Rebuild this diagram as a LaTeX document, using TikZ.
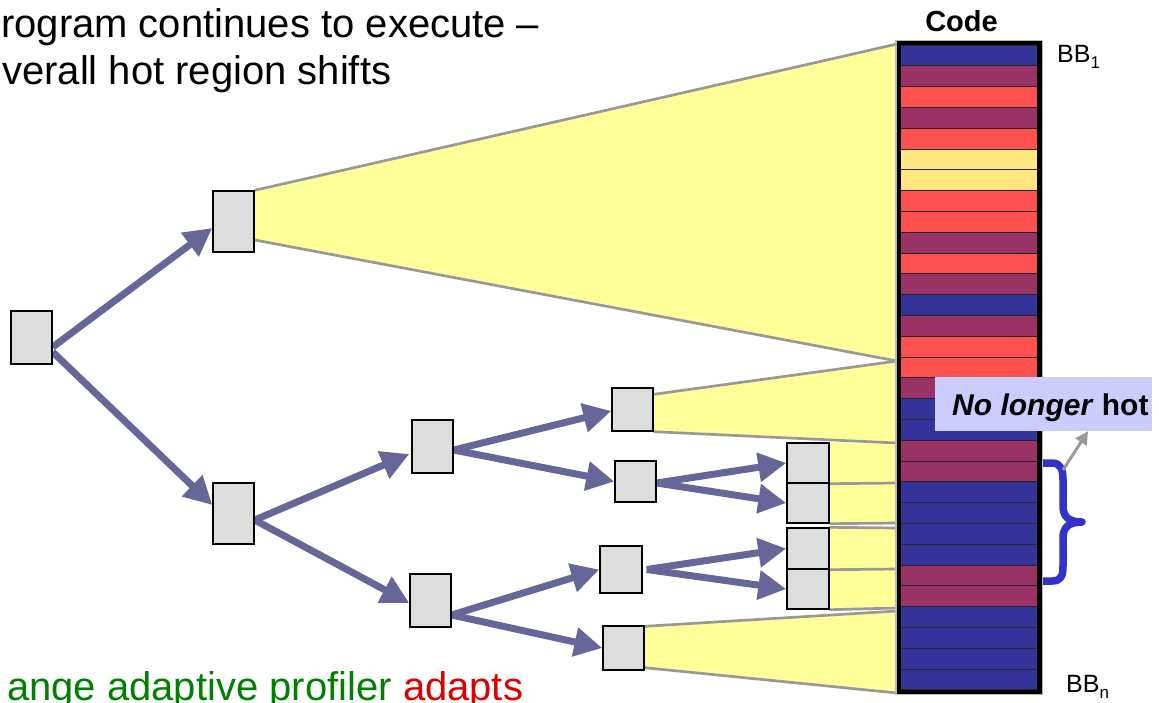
\documentclass[tikz,border=0pt]{standalone}
\usepackage{fontspec}
\setmainfont{Liberation Sans}
\usetikzlibrary{arrows.meta,backgrounds}

\definecolor{arrowc}{HTML}{666699}
\definecolor{fanfill}{HTML}{FFFF99}
\definecolor{fanedge}{HTML}{999999}
\definecolor{boxfill}{HTML}{DDDDDD}
\definecolor{cB}{HTML}{333399}
\definecolor{cP}{HTML}{993366}
\definecolor{cR}{HTML}{FF5050}
\definecolor{cY}{HTML}{FFE680}
\definecolor{calloutfill}{HTML}{CCCCFF}
\definecolor{bracec}{HTML}{3333CC}
\definecolor{txtgreen}{HTML}{008000}
\definecolor{txtred}{HTML}{DD0000}

\begin{document}
\begin{tikzpicture}[x=1pt,y=-1pt,
  blk/.style={draw=black, line width=1.4pt, fill=boxfill, inner sep=0pt, minimum width=41pt},
  flow/.style={draw=arrowc, line width=7pt, -{Triangle[length=28pt,width=28pt]}},
  fan/.style={fill=fanfill},
  fanline/.style={draw=fanedge, line width=2.7pt},
  stripe/.style={draw=black!85, line width=0.9pt},
  label/.style={inner sep=0pt},
  bigtext/.style={label, anchor=base west, font=\fontsize{40}{47}\selectfont}]

\useasboundingbox (0,0) rectangle (1159,702);

% call-tree blocks
\node[blk, minimum height=53pt] (root) at (31.5,337.5) {};
\node[blk, minimum height=61pt] (top)  at (233.5,221.5) {};
\node[blk, minimum height=61pt] (mid)  at (233.5,513.5) {};
\node[blk, minimum height=53pt] (A)    at (432.5,446.5) {};
\node[blk, minimum height=53pt] (B)    at (430.5,600.5) {};
\node[blk, minimum height=43pt] (C3a)  at (632.5,409.5) {};
\node[blk, minimum height=41pt] (C3b)  at (635.5,481.5) {};
\node[blk, minimum height=47pt, minimum width=42pt] (C3c) at (621,569.5) {};
\node[blk, minimum height=44pt] (C3d)  at (623.5,648) {};
\node[blk, minimum height=40pt, minimum width=42pt] (D1) at (808,463) {};
\node[blk, minimum height=40pt, minimum width=42pt] (D2) at (808,503) {};
\node[blk, minimum height=41pt, minimum width=42pt] (D3) at (808,548.5) {};
\node[blk, minimum height=40pt, minimum width=42pt] (D4) at (808,589) {};

% where the fans meet the code column
\coordinate (k0) at (897,44);
\coordinate (k1) at (897,361);
\coordinate (k2) at (897,443);
\coordinate (k3) at (897,483);
\coordinate (k4) at (897,523);
\coordinate (k5) at (897,528);
\coordinate (k6) at (897,569);
\coordinate (k7) at (897,608);
\coordinate (k8) at (897,611);
\coordinate (k9) at (897,693);

\begin{scope}[on background layer]
  % fans
  \fill[fan] (top.north east) -- (k0) -- (k1) -- ([yshift=-18.5pt]top.east) -- cycle;
  \fill[fan] ([yshift=-7pt]C3a.north east) -- (k1) -- (k2) -- (C3a.south east) -- cycle;
  \fill[fan] (D1.north east) -- (k2) -- (k3) -- (D1.south east) -- cycle;
  \fill[fan] (D2.north east) -- (k3) -- (k4) -- (D2.south east) -- cycle;
  \fill[fan] (D3.north east) -- (k5) -- (k6) -- (D3.south east) -- cycle;
  \fill[fan] (D4.north east) -- (k6) -- (k7) -- (D4.south east) -- cycle;
  \fill[fan] ([yshift=-1pt]C3d.north east) -- (k8) -- (k9) -- ([yshift=3pt]C3d.south east) -- cycle;
  % fan edges
  \draw[fanline] (top.north east) -- (k0);
  \draw[fanline] ([yshift=-18.5pt]top.east) -- (k1);
  \draw[fanline] ([yshift=-7pt]C3a.north east) -- (k1);
  \draw[fanline] (C3a.south east) -- (k2);
  \draw[fanline] (D1.south east) -- (k3);
  \draw[fanline] (D2.south east) -- (k4);
  \draw[fanline] (D3.north east) -- (k5);
  \draw[fanline] (D3.south east) -- (k6);
  \draw[fanline] (D4.south east) -- (k7);
  \draw[fanline] ([yshift=-1pt]C3d.north east) -- (k8);
  \draw[fanline] ([yshift=3pt]C3d.south east) -- (k9);
  % call edges
  \draw[flow] ([yshift=-9.5pt]root.east) -- ([yshift=-6.5pt]top.west);
  \draw[flow] ([yshift=-14.5pt]root.east) -- ([yshift=8.5pt]mid.west);
  \draw[flow] ([yshift=-6.5pt]mid.east) -- ([xshift=-2pt,yshift=-7.5pt]A.west);
  \draw[flow] ([yshift=-6.5pt]mid.east) -- ([yshift=-2.5pt]B.west);
  \draw[flow] ([yshift=-3.5pt]A.east) -- ([yshift=-1.5pt]C3a.west);
  \draw[flow] ([yshift=-3.5pt]A.east) -- (C3b.west);
  \draw[flow] ([yshift=-14.5pt]B.east) -- (C3c.west);
  \draw[flow] ([yshift=-14.5pt]B.east) -- (C3d.west);
  \draw[flow] ([yshift=-1.5pt]C3b.east) -- (D1.west);
  \draw[flow] ([yshift=-1.5pt]C3b.east) -- (D2.west);
  \draw[flow] ([xshift=4pt]C3c.east) -- (D3.west);
  \draw[flow] ([xshift=4pt]C3c.east) -- (D4.west);
\end{scope}

% code column: one stripe per basic block
\foreach \c [count=\i from 0] in {cB,cP,cR,cP,cR,cY,cY,cR,cR,cP,cR,cP,cB,cP,cR,cR,cP,cB,cB,cP,cP,cB,cB,cB,cB,cP,cP,cB,cB,cB,cB}
  \filldraw[stripe, fill=\c] (899,{45+20.8*\i}) rectangle (1039.5,{45+20.8*(\i+1)});
\draw[fanedge!70, line width=1.2pt] (896,40.5) rectangle (1042.5,694.5);
\node[draw=black, line width=4.3pt, minimum width=140.5pt, minimum height=649pt, inner sep=0pt] (code) at (969.25,367.5) {};

\node[label, anchor=base, font=\fontsize{29}{34}\selectfont\bfseries] (codelabel) at (961.5,31.5) {Code};
\node[label, anchor=base west, font=\fontsize{25}{30}\selectfont] (bb1) at (1057,62) {BB\raisebox{-6pt}{\fontsize{17}{20}\selectfont 1}};
\node[label, anchor=base west, font=\fontsize{25}{30}\selectfont] (bbn) at (1066,692) {BB\raisebox{-6pt}{\fontsize{17}{20}\selectfont n}};

% callout
\node[fill=calloutfill, minimum width=217pt, minimum height=54pt, inner sep=0pt] (callout) at (1043.5,404) {};
\node[label, anchor=base west, font=\fontsize{30}{36}\selectfont\bfseries] (hot) at (952,415) {\textit{No longer} hot};

% brace over the cooled-down blocks
\coordinate (braceTop) at (1063,470);
\draw[bracec, line width=7.5pt, line join=round]
  (1043,463) -- (1052,463) .. controls (1061,463) and (1063,470) .. (1063,480)
  -- (1063,506) .. controls (1063,516) and (1068,522) .. (1082,522)
  .. controls (1068,522) and (1063,528) .. (1063,538)
  -- (1063,566) .. controls (1063,576) and (1061,581) .. (1052,581) -- (1043,581);
\draw[fanedge, line width=3pt, -{Triangle[length=13pt,width=13pt]}] (braceTop) -- ([xshift=44.5pt]callout.south);

% captions
\node[bigtext] (line1) at (1,37) {rogram continues to execute –};
\node[bigtext] (line2) at (2,84) {verall hot region shifts};
\node[bigtext] (line3) at (7,700) {\textcolor{txtgreen}{ange adaptive profiler} \textcolor{txtred}{adapts}};

\end{tikzpicture}
\end{document}
